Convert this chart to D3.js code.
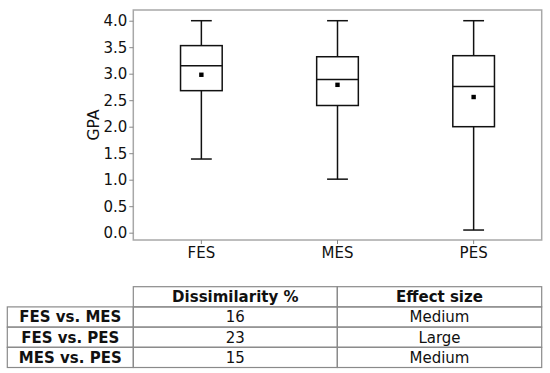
<!DOCTYPE html>
<html>
<head>
<meta charset="utf-8">
<script src="https://cdn.jsdelivr.net/npm/d3@7"></script>
<style>
  html, body { margin: 0; padding: 0; background: #fff; }
  svg { display: block; font-family: "DejaVu Sans", sans-serif; }
</style>
</head>
<body>
<svg id="chart" width="550" height="373"></svg>
<script>
// ---- data ----
const categories = ["FES", "MES", "PES"];
const whiskerLow = [1.39, 1.01, 0.05];
const q1 = [2.68, 2.40, 2.00];
const medians = [3.15, 2.89, 2.76];
const q3 = [3.53, 3.32, 3.34];
const whiskerHigh = [4.0, 4.0, 4.0];
const means = [2.98, 2.79, 2.56];
const yTicks = [0.0, 0.5, 1.0, 1.5, 2.0, 2.5, 3.0, 3.5, 4.0];
const yLabel = "GPA";

const tableColumns = ["Dissimilarity %", "Effect size"];
const tableRows = ["FES vs. MES", "FES vs. PES", "MES vs. PES"];
const dissimilarity = [16, 23, 15];
const effectSize = ["Medium", "Large", "Medium"];

// ---- layout ----
const svg = d3.select("#chart");
const plot = { left: 133.3, right: 541.7, top: 10, bottom: 240 };
const fontSize = 15;

const x = d3.scaleBand().domain(categories).range([plot.left, plot.right]).padding(0);
const y = d3.scaleLinear().domain([-0.138, 4.202]).range([plot.bottom, plot.top]);

const boxW = x.bandwidth() * 0.306;
const capW = boxW / 2;

// frame
svg.append("rect")
  .attr("x", plot.left).attr("y", plot.top)
  .attr("width", plot.right - plot.left).attr("height", plot.bottom - plot.top)
  .attr("fill", "none").attr("stroke", "#a8a8a8").attr("stroke-width", 1.5);

// y axis
const yAxis = d3.axisLeft(y).tickValues(yTicks).tickFormat(d3.format(".1f")).tickSize(4).tickPadding(2);
const yg = svg.append("g").attr("transform", `translate(${plot.left},0)`).call(yAxis);
yg.attr("font-size", null).attr("font-family", null);
yg.select(".domain").remove();
yg.selectAll(".tick line").attr("stroke", "#888").attr("stroke-width", 1);
yg.selectAll(".tick text").attr("fill", "#111").style("font-size", fontSize + "px").style("font-family", "DejaVu Sans");

// x axis
const xAxis = d3.axisBottom(x).tickSize(4).tickPadding(3);
const xg = svg.append("g").attr("transform", `translate(0,${plot.bottom})`).call(xAxis);
xg.attr("font-size", null).attr("font-family", null);
xg.select(".domain").remove();
xg.selectAll(".tick line").attr("stroke", "#888").attr("stroke-width", 1);
xg.selectAll(".tick text").attr("fill", "#111").style("font-size", fontSize + "px").style("font-family", "DejaVu Sans");

// y label
svg.append("text")
  .attr("transform", `translate(99,${(plot.top + plot.bottom) / 2}) rotate(-90)`)
  .attr("text-anchor", "middle")
  .attr("fill", "#111")
  .style("font-size", "15.5px")
  .text(yLabel);

// boxes
const stats = categories.map((c, i) => ({
  c, lo: whiskerLow[i], q1: q1[i], med: medians[i], q3: q3[i], hi: whiskerHigh[i], mean: means[i]
}));

const g = svg.append("g").attr("stroke", "#111").attr("stroke-width", 1.5).attr("fill", "none");
stats.forEach(s => {
  const cx = x(s.c) + x.bandwidth() / 2;
  // whiskers
  g.append("line").attr("x1", cx).attr("x2", cx).attr("y1", y(s.q3)).attr("y2", y(s.hi));
  g.append("line").attr("x1", cx).attr("x2", cx).attr("y1", y(s.q1)).attr("y2", y(s.lo));
  // caps
  g.append("line").attr("x1", cx - capW / 2).attr("x2", cx + capW / 2).attr("y1", y(s.hi)).attr("y2", y(s.hi));
  g.append("line").attr("x1", cx - capW / 2).attr("x2", cx + capW / 2).attr("y1", y(s.lo)).attr("y2", y(s.lo));
  // box
  g.append("rect").attr("x", cx - boxW / 2).attr("width", boxW)
    .attr("y", y(s.q3)).attr("height", y(s.q1) - y(s.q3));
  // median
  g.append("line").attr("x1", cx - boxW / 2).attr("x2", cx + boxW / 2).attr("y1", y(s.med)).attr("y2", y(s.med));
  // mean marker
  svg.append("rect").attr("x", cx - 2.2).attr("y", y(s.mean) - 2.2)
    .attr("width", 4.4).attr("height", 4.4).attr("fill", "#000");
});

// ---- table ----
const tbl = { left: 7.3, col1: 133.3, col2: 337.3, right: 541.7, top: 286.7, rowH: 20.2 };
const tg = svg.append("g");
const lineColor = "#8a8a8a";
const colEdges = [tbl.left, tbl.col1, tbl.col2, tbl.right];

// header row (no label cell)
tableColumns.forEach((h, j) => {
  const x0 = colEdges[j + 1], x1 = colEdges[j + 2];
  tg.append("rect").attr("x", x0).attr("y", tbl.top).attr("width", x1 - x0).attr("height", tbl.rowH)
    .attr("fill", "none").attr("stroke", lineColor).attr("stroke-width", 1.2);
  tg.append("text").attr("x", (x0 + x1) / 2).attr("y", tbl.top + tbl.rowH / 2)
    .attr("text-anchor", "middle").attr("dy", "0.36em")
    .style("font-size", fontSize + "px").style("font-weight", "bold").attr("fill", "#111")
    .text(h);
});

tableRows.forEach((r, i) => {
  const yy = tbl.top + tbl.rowH * (i + 1);
  const cells = [r, String(dissimilarity[i]), effectSize[i]];
  cells.forEach((t, j) => {
    const x0 = colEdges[j], x1 = colEdges[j + 1];
    tg.append("rect").attr("x", x0).attr("y", yy).attr("width", x1 - x0).attr("height", tbl.rowH)
      .attr("fill", "none").attr("stroke", lineColor).attr("stroke-width", 1.2);
    tg.append("text").attr("x", (x0 + x1) / 2).attr("y", yy + tbl.rowH / 2)
      .attr("text-anchor", "middle").attr("dy", "0.36em")
      .style("font-size", fontSize + "px").style("font-weight", j === 0 ? "bold" : "normal").attr("fill", "#111")
      .text(t);
  });
});
</script>
</body>
</html>
